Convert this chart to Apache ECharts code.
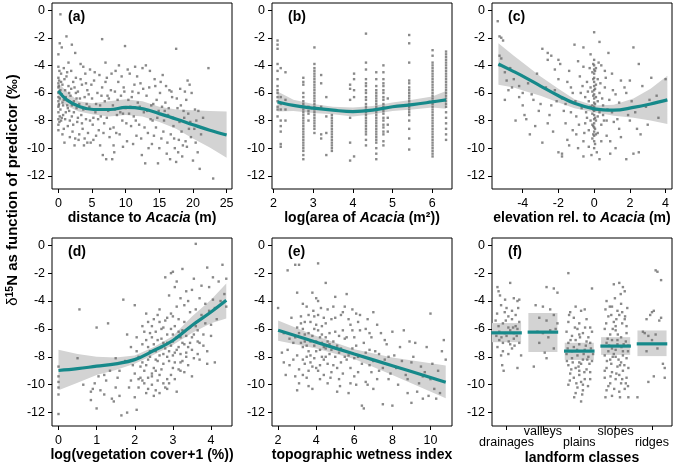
<!DOCTYPE html>
<html><head><meta charset="utf-8">
<script src="https://cdn.jsdelivr.net/npm/echarts@6/dist/echarts.min.js"></script>
<style>html,body{margin:0;padding:0;background:#fff}#c{width:675px;height:464px}</style>
</head><body><div id="c"></div>
<script>
// ---------- data ----------
const yTicks = [-12,-10,-8,-6,-4,-2,0];
const xTicksA = [0,5,10,15,20,25];
const xTicksB = [2,3,4,5,6];
const xTicksC = [-4,-2,0,2,4];
const xTicksD = [0,1,2,3,4];
const xTicksE = [2,4,6,8,10];
const landforms = ['drainages','valleys','plains','slopes','ridges'];
const panelLabels = ['(a)','(b)','(c)','(d)','(e)','(f)'];

const ptsA = [[0,-3.2],[0,-4.1],[0,-4.9],[0,-5.3],[0,-5.6],[0,-6.0],[0,-6.3],[0,-6.6],[0,-7.0],[0,-7.4],[0,-7.9],[0,-8.3],[0,-8.7],[0.1,-5.1],[0.1,-6.8],[0.2,-2.4],[0.3,-0.3],[0.3,-7.2],[0.4,-4.6],[0.4,-8.0],[0.5,-2.7],[0.5,-6.1],[0.6,-5.4],[0.6,-9.0],[0.7,-7.6],[0.8,-4.2],[0.8,-6.5],[0.9,-9.6],[1.0,-5.8],[1.0,-7.9],[1.2,-1.9],[1.2,-4.8],[1.3,-6.9],[1.4,-8.4],[1.5,-3.8],[1.5,-5.5],[1.6,-7.3],[1.7,-9.2],[1.8,-6.2],[1.9,-4.4],[2.0,-2.5],[2.0,-7.7],[2.1,-8.8],[2.2,-5.2],[2.3,-6.6],[2.4,-9.8],[2.5,-3.1],[2.6,-4.9],[2.7,-7.1],[2.8,-8.1],[2.9,-5.9],[3.0,-9.4],[3.1,-6.8],[3.3,-3.9],[3.4,-7.6],[3.5,-5.4],[3.6,-8.6],[3.8,-9.8],[3.9,-6.3],[4.0,-4.6],[4.1,-7.9],[4.3,-5.8],[4.4,-8.9],[4.6,-7.0],[4.7,-4.3],[4.8,-9.6],[5.0,-6.4],[5.1,-8.3],[5.3,-5.1],[5.5,-7.4],[5.6,-9.1],[5.8,-6.0],[6.0,-8.7],[6.1,-4.7],[6.3,-7.7],[6.5,-2.1],[6.5,-5.6],[6.6,-10.5],[6.8,-8.2],[6.9,-6.6],[7.0,-3.8],[7.1,-10.8],[7.2,-4.9],[7.4,-7.3],[7.6,-9.2],[7.8,-5.8],[8.0,-10.8],[8.1,-6.9],[8.2,-8.5],[8.3,-10.3],[8.5,-4.4],[8.7,-7.6],[8.9,-5.2],[9.0,-4.0],[9.1,-9.0],[9.3,-6.2],[9.5,-8.0],[9.7,-5.6],[9.9,-2.6],[10.0,-7.1],[10.2,-9.5],[10.4,-6.5],[10.6,-4.6],[10.8,-8.4],[11.0,-5.9],[11.2,-7.7],[11.4,-4.1],[11.6,-9.1],[11.8,-6.7],[12.0,-8.3],[12.2,-5.3],[12.4,-10.5],[12.5,-4.2],[12.7,-7.4],[12.9,-11.1],[13.0,-4.0],[13.1,-6.2],[13.3,-8.9],[13.5,-5.6],[13.7,-7.9],[13.9,-9.7],[14.1,-6.8],[14.3,-5.0],[14.5,-8.5],[14.8,-11.1],[14.9,-7.3],[15.1,-6.0],[15.3,-9.3],[15.5,-4.7],[15.7,-8.0],[15.9,-6.7],[16.1,-10.4],[16.3,-7.6],[16.5,-5.8],[16.7,-9.0],[16.9,-6.3],[17.1,-8.4],[17.3,-10.0],[17.5,-2.8],[17.5,-11.0],[17.7,-7.1],[17.9,-9.4],[18.1,-5.7],[18.3,-8.8],[18.5,-9.8],[18.7,-7.8],[18.9,-9.5],[19.0,-6.5],[19.2,-5.1],[19.4,-8.6],[19.5,-5.4],[19.7,-9.2],[20.0,-10.9],[20.3,-7.2],[20.5,-8.0],[20.7,-10.3],[21.0,-11.5],[21.5,-7.8],[22.3,-4.2],[23.0,-12.2],[0.2,-6.4],[0.3,-5.8],[0.5,-7.8],[0.7,-6.9],[1.1,-6.3],[1.4,-7.1],[1.9,-5.7],[2.3,-7.4],[2.6,-6.0],[3.2,-6.4],[3.7,-7.2],[4.2,-6.8],[5.2,-7.8],[6.2,-6.9],[7.3,-6.2],[8.4,-7.2],[9.6,-7.5],[10.7,-7.0],[11.9,-6.0],[13.2,-7.3],[14.6,-6.5],[15.8,-7.3],
[0.1,-5.9],[0.2,-7.7],[0.4,-5.2],[0.6,-6.7],[0.8,-8.6],[0.9,-5.0],[1.1,-7.4],[1.3,-4.5],[1.6,-6.0],[1.7,-8.0],[2.0,-6.9],[2.2,-8.3],[2.4,-5.6],[2.5,-9.3],[2.7,-6.4],[2.9,-7.8],[3.1,-9.0],[3.3,-5.0],[3.5,-8.2],[3.7,-4.1],[3.9,-9.3],[4.1,-5.3],[4.3,-9.6],[4.5,-6.1],[4.7,-8.0],[4.9,-5.4],[5.2,-9.4],[5.4,-4.5],[5.6,-6.8],[5.9,-7.9],[6.2,-9.8],[6.4,-6.2],[6.7,-8.9],[7.0,-5.2],[7.2,-7.8],[7.5,-6.4],[7.7,-8.6],[7.9,-4.6],[8.2,-9.8],[8.4,-5.9],[8.6,-8.9],[8.8,-6.5],[9.2,-7.4],[9.4,-4.8],[9.6,-9.9],[9.8,-5.9],[10.1,-8.2],[10.3,-4.3],[10.5,-7.5],[10.9,-6.3],[11.1,-9.7],[11.3,-5.4],[11.5,-8.0],[11.7,-4.8],[12.1,-7.0],[12.3,-9.3],[12.6,-5.7],[12.8,-8.5],[13.4,-10.0],[13.6,-4.4],[13.8,-6.9],[14.0,-8.0],[14.2,-9.1],[14.4,-5.5],[14.7,-7.8],[15.0,-10.0],[15.2,-5.2],[15.4,-7.0],[15.6,-8.8],[16.0,-5.5],[16.2,-9.6],[16.4,-7.1],[16.6,-10.8],[16.8,-5.9],[17.0,-7.8],[17.2,-9.3],[17.6,-6.4],[17.8,-10.3],[18.0,-8.1],[18.2,-6.9],[18.4,-10.6],[18.6,-7.3],[18.8,-5.9],[19.1,-9.9],[19.3,-7.5],[19.6,-8.1],[19.8,-6.0],[20.2,-8.6],[20.4,-9.6],[20.8,-7.3],[21.2,-9.0],[0.05,-6.9],[0.05,-5.5],[0.15,-8.1],[0.15,-4.4]];

const colsB = [
 [2.1,[-2.2,-2.5,-2.8,-3.9,-4.4,-5.0,-5.5,-5.8,-6.0,-6.3,-6.6,-7.0,-7.2,-7.7]],
 [2.18,[-4.2,-6.3,-6.8,-7.2,-8.0,-8.4,-8.8,-9.7,-9.9]],
 [2.3,[-4.5,-6.5,-7.2,-8.0]],
 [2.75,[-4.9,-5.2,-5.4,-6.0,-6.3,-6.6,-6.8,-7.0,-7.2,-7.4,-7.6,-7.8,-8.0,-8.2,-8.4,-8.6,-8.8,-9.0,-9.2,-9.4,-9.6,-9.8,-10.0,-10.2,-10.5,-10.8]],
 [2.88,[-7.0,-7.3,-7.5,-8.0]],
 [3.03,[-2.7,-3.9,-4.2,-4.4,-4.6,-4.8,-5.0,-5.2,-5.4,-5.6,-5.8,-6.0,-6.2,-6.4,-6.6,-6.8,-7.0,-7.2,-7.4,-7.6,-7.8,-8.0,-8.2,-8.4,-8.6,-8.9]],
 [3.2,[-4.7,-5.3,-7.0,-9.0,-9.3]],
 [3.33,[-6.3,-7.7,-8.9,-10.5]],
 [3.47,[-7.6,-7.8,-8.0,-8.2,-8.4,-8.6,-8.8,-9.0,-9.2,-9.4,-9.6,-9.8,-10.0,-10.2]],
 [3.93,[-5.4,-5.7,-6.5,-7.8,-9.6,-10.9]],
 [4.03,[-4.6,-5.0,-5.8,-6.3,-10.6]],
 [4.33,[-1.7,-3.8,-4.3,-5.0,-5.3,-5.5,-5.8,-6.0,-6.3,-6.5,-6.8,-7.0,-7.2,-7.4,-7.6,-7.8,-8.0,-8.2,-8.4,-8.6,-8.8,-9.0,-9.4,-9.8]],
 [4.59,[-4.5,-5.0,-5.5,-5.8,-6.0,-6.2,-6.4,-6.6,-6.8,-7.0,-7.2,-7.4,-7.6,-7.8,-8.0,-8.2,-8.4,-8.6,-8.8,-9.0,-9.2,-9.4,-9.6,-10.0,-10.4,-10.8]],
 [4.77,[-4.0,-4.5,-5.0,-5.3,-5.5,-5.8,-6.0,-6.3,-6.5,-6.8,-7.0,-7.3,-7.5,-7.8,-8.0,-8.3,-8.5,-8.8,-9.0,-9.5,-9.8]],
 [4.88,[-6.4,-7.8,-8.3,-8.8]],
 [5.42,[-1.8,-2.4,-3.8,-5.1,-5.3,-5.6,-5.8,-6.0,-6.2,-6.4,-6.6,-6.8,-7.0,-7.2,-7.4,-7.6,-8.0,-8.6,-9.3,-10.1]],
 [6.01,[-2.9,-3.3,-3.8,-4.0,-4.2,-4.4,-4.6,-4.8,-5.0,-5.2,-5.4,-5.6,-5.8,-6.0,-6.2,-6.4,-6.6,-6.8,-7.0,-7.2,-7.4,-7.6,-7.8,-8.0,-8.2,-8.4,-8.6,-8.8,-9.0,-9.2,-9.4,-9.6,-9.8,-10.0,-10.2,-10.4,-10.6]],
 [6.35,[-3.0,-3.2,-3.4,-3.6,-3.8,-4.0,-4.2,-4.4,-4.6,-4.8,-5.0,-5.2,-5.4,-5.6,-5.8,-6.0,-6.2,-6.4,-6.6,-6.8,-7.0,-7.4,-7.8,-8.2,-8.6,-9.0,-9.4]]
];

const ptsC = [[-5.4,-0.8],[-5.3,-1.9],[-5.2,-2.0],[-5.1,-2.2],[-5.3,-3.3],[-5.2,-3.5],[-5.0,-4.5],[-4.5,-5.0],[-4.8,-5.8],[-5.0,-6.5],[-4.2,-5.5],[-4.0,-6.0],[-4.2,-6.3],[-3.7,-5.3],[-3.2,-4.6],[-3.9,-7.6],[-3.8,-7.9],[-4.4,-8.0],[-3.3,-8.4],[-3.6,-9.0],[-2.9,-2.8],[-2.6,-3.1],[-2.4,-3.3],[-2.6,-3.6],[-2.9,-9.6],[-2.5,-7.6],[-2.2,-4.3],[-2.0,-3.6],[-1.9,-3.9],[-2.0,-10.3],[-1.8,-10.4],[-1.8,-10.6],[-1.1,-2.5],[-0.6,-2.7],[-0.2,-3.2],[0.0,-1.6],[0.3,-2.3],[0.8,-3.1],[0.7,-8.0],[1.0,-4.6],[1.5,-5.1],[2.0,-8.0],[2.5,-3.9],[2.2,-2.7],[3.2,-4.9],[2.7,-5.5],[3.0,-8.3],[2.4,-8.6],[2.2,-10.4],[1.8,-10.8],[2.5,-10.3],[0.3,-10.8],[-0.6,-10.6],[4.0,-5.0],[-3.0,-6.8],[-1.5,-5.2],[-1.2,-6.0],[-0.8,-4.8],[-1.3,-7.4],[-1.6,-8.2],[-1.0,-9.0],[-0.6,-9.5],[-2.2,-5.8],[-1.8,-6.4],[-2.3,-8.8],[-1.4,-9.8],[-0.9,-3.7],[1.2,-6.1],[1.6,-7.2],[1.4,-8.6],[0.9,-9.5],[1.2,-10.0],[2.1,-6.6],[2.9,-7.0],[1.7,-5.6],[0.6,-5.6],[0.5,-6.9],[0.7,-9.1],[-0.5,-6.3],[-0.4,-7.8],[-0.3,-8.7],[-0.7,-7.1],[3.5,-6.2],[0,-3.6],[0,-4.0],[0,-4.3],[0,-4.6],[0,-4.9],[0,-5.2],[0,-5.5],[0,-5.8],[0,-6.1],[0,-6.4],[0,-6.7],[0,-7.0],[0,-7.3],[0,-7.6],[0,-7.9],[0,-8.2],[0,-8.5],[0,-8.8],[0,-9.1],[0,-9.5],[0,-10.0],[-0.1,-4.5],[-0.1,-5.9],[-0.1,-6.9],[-0.1,-7.5],[-0.1,-8.3],[-0.1,-9.3],[0.1,-4.2],[0.1,-5.4],[0.1,-6.3],[0.1,-7.2],[0.1,-8.0],[0.1,-9.0],[0.2,-5.0],[0.2,-6.6],[0.2,-7.7],[0.2,-8.9],[-0.2,-5.6],[-0.2,-7.0],[-0.2,-8.0],[0.3,-6.0],[0.3,-7.4],[-0.3,-6.6],[0.4,-4.0],[0.4,-8.3],[-0.4,-5.2],[-2.7,-5.6],[-3.4,-6.5],[-1.0,-7.7],[1.0,-7.4],[1.9,-7.6],[-0.5,-8.2],[0.5,-7.6],[-4.6,-5.6],[-2.4,-6.9],[-1.6,-6.8],
[-0.05,-3.9],[0.05,-4.4],[-0.05,-5.0],[0.05,-5.7],[-0.05,-6.2],[0.05,-6.8],[-0.05,-7.2],[0.05,-7.8],[-0.05,-8.4],[0.05,-8.6],[-0.05,-9.0],[0.05,-9.7],[0.15,-10.3],[-0.15,-10.5],[0.25,-3.8],[-0.25,-4.2],[0.35,-5.3],[-0.35,-5.9],[0.45,-6.4],[-0.45,-7.4],[0.55,-8.0],[-0.55,-8.9],[0.65,-4.9],[-0.65,-5.5],[0.75,-7.2],[-0.75,-6.0],[0.85,-6.5],[-0.85,-8.3],[1.05,-5.8],[-1.05,-6.6],[1.3,-7.9],[-1.3,-5.6],[1.5,-9.2],[-1.5,-9.4],[1.8,-6.0],[-1.7,-7.3],[2.3,-7.4],[-2.1,-6.6],[2.6,-9.0],[-2.6,-8.2],[3.1,-6.5],[-3.1,-7.3],[3.6,-7.8],[-3.5,-6.1],[-4.0,-6.9],[-4.7,-4.2],[-4.9,-5.1],[-5.3,-4.0],[0.9,-10.4],[-0.9,-10.0],[0.4,-9.5],[-0.3,-9.9],[1.1,-8.1],[-1.2,-8.7],[0.6,-4.4],[-0.6,-4.1],[1.4,-6.7],[-1.4,-4.4],[2.0,-5.1],[-2.0,-5.0]];

const ptsD = [[0,-8.7],[0,-9.4],[0,-9.8],[0,-10.2],[0,-10.7],[0,-12.1],[0.5,-8.1],[0.55,-4.6],[0.65,-10.0],[0.85,-10.5],[0.9,-10.3],[0.85,-11.1],[1.0,-11.7],[1.0,-5.9],[1.05,-9.4],[1.1,-10.4],[1.2,-10.7],[1.25,-9.7],[1.3,-5.6],[1.35,-9.0],[1.4,-11.0],[1.45,-11.2],[1.5,-8.1],[1.5,-10.2],[1.6,-9.0],[1.6,-10.8],[1.65,-12.2],[1.8,-12.0],[1.7,-3.9],[1.75,-8.3],[1.8,-6.4],[1.9,-7.3],[1.9,-9.7],[2.0,-4.3],[2.0,-10.9],[2.05,-11.8],[2.05,-6.6],[2.1,-8.0],[2.15,-9.5],[2.2,-5.8],[2.2,-7.1],[2.25,-9.9],[2.3,-4.9],[2.3,-8.6],[2.35,-10.3],[2.4,-6.3],[2.4,-7.6],[2.45,-9.2],[2.5,-5.3],[2.5,-10.8],[2.55,-8.2],[2.6,-6.8],[2.6,-9.7],[2.65,-4.6],[2.7,-7.3],[2.7,-8.9],[2.75,-5.9],[2.8,-10.2],[2.8,-2.3],[2.85,-6.4],[2.85,-8.0],[2.9,-3.6],[2.9,-7.6],[2.95,-9.3],[3.0,-1.9],[3.0,-5.1],[3.0,-6.9],[3.05,-8.4],[3.1,-2.6],[3.1,-4.4],[3.1,-10.5],[3.15,-6.2],[3.2,-7.8],[3.2,-9.0],[3.25,-1.7],[3.3,-5.5],[3.3,-7.1],[3.35,-3.3],[3.4,-8.6],[3.4,-6.0],[3.45,-4.8],[3.5,-7.5],[3.5,-9.4],[3.55,-2.4],[3.6,-5.8],[3.6,0.1],[3.65,-6.9],[3.7,-3.8],[3.7,-8.2],[3.75,-5.0],[3.8,-7.2],[3.85,-4.2],[3.9,-1.6],[3.9,-8.5],[3.95,-3.0],[4.0,-5.7],[4.05,-2.3],[4.1,-4.5],[4.2,-2.6],[4.3,-1.4],[4.35,-3.5],[4.4,-2.4],[4.4,-4.4],[2.25,-9.0],[2.35,-9.5],[2.45,-10.0],[2.55,-9.0],[2.65,-7.9],[2.75,-7.0],[2.85,-9.6],[2.95,-6.0],[3.05,-5.8],[3.15,-7.3],[3.25,-8.3],[3.35,-6.5],[2.95,-7.2],[2.7,-6.0],[2.6,-8.3],[2.5,-7.1],[2.4,-8.0],[2.3,-6.8],[2.2,-9.7],[3.0,-8.8],[3.1,-7.5],[2.9,-8.3],[2.8,-7.4],[3.2,-6.6],[3.3,-9.1],[2.1,-9.6],[2.0,-9.2],[3.45,-7.0],[3.55,-6.4],[3.65,-7.8],[2.55,-6.2],[2.65,-5.5],[2.75,-8.5],[2.85,-5.2],[3.05,-7.7],[3.15,-8.9],[3.25,-6.1],[3.35,-7.7],[2.45,-5.8],[2.35,-7.3],
[2.05,-7.6],[2.15,-8.7],[2.25,-6.2],[2.3,-10.6],[2.35,-8.2],[2.45,-6.6],[2.5,-8.8],[2.55,-7.6],[2.6,-5.0],[2.65,-9.3],[2.7,-6.7],[2.75,-7.8],[2.8,-5.4],[2.85,-7.0],[2.9,-9.9],[2.95,-4.9],[3.0,-7.9],[3.0,-6.4],[3.05,-9.6],[3.1,-6.6],[3.15,-5.3],[3.2,-8.4],[3.25,-7.0],[3.3,-4.3],[3.35,-8.0],[3.4,-7.3],[3.45,-5.9],[3.5,-6.6],[3.55,-8.1],[3.6,-4.6],[3.65,-6.1],[3.7,-7.0],[3.75,-2.9],[3.8,-6.4],[3.85,-5.6],[3.9,-7.6],[3.95,-4.7],[4.0,-6.5],[4.05,-3.9],[4.1,-8.4],[4.15,-5.3],[4.25,-4.0],[2.55,-10.4],[2.75,-9.9],[2.35,-5.5],[2.45,-9.4],[2.65,-10.6],[2.85,-10.3],[2.2,-8.4],[2.1,-10.2],[1.95,-8.6],[1.85,-10.2],[1.55,-9.5],[1.2,-9.3],[0.95,-9.9],[3.05,-3.0],[2.95,-2.0],[3.2,-3.8],[3.4,-4.0],[3.5,-3.2]];

const ptsE = [[2.0,-4.5],[2.5,-1.8],[2.9,-1.4],[3.1,-1.4],[4.1,-1.3],[4.5,-2.7],[2.4,-9.3],[2.2,-7.7],[2.6,-8.6],[2.8,-8.2],[3.0,-10.4],[3.1,-9.9],[2.9,-6.6],[3.0,-3.4],[3.2,-5.6],[3.3,-7.3],[3.4,-8.5],[3.5,-4.4],[3.5,-9.5],[3.6,-6.3],[3.7,-7.9],[3.8,-3.4],[3.8,-10.3],[3.9,-5.1],[4.0,-6.9],[4.0,-8.8],[4.1,-4.0],[4.2,-7.5],[4.2,-9.6],[4.3,-5.8],[4.4,-8.2],[4.5,-6.6],[4.6,-4.6],[4.6,-9.9],[4.7,-7.1],[4.8,-5.3],[4.9,-8.6],[5.0,-3.7],[5.0,-6.2],[5.1,-10.5],[5.2,-7.7],[5.3,-5.0],[5.4,-9.2],[5.5,-6.7],[5.6,-3.5],[5.6,-8.2],[5.7,-10.6],[5.8,-5.7],[5.9,-7.4],[6.0,-9.4],[6.1,-4.9],[6.2,-8.0],[6.3,-6.1],[6.4,-11.5],[6.5,-11.7],[6.5,-7.0],[6.6,-9.8],[6.7,-5.3],[6.8,-8.6],[6.9,-6.6],[7.0,-10.3],[7.0,-4.8],[7.1,-7.6],[7.3,-9.0],[7.4,-6.3],[7.5,-11.4],[7.6,-8.2],[7.7,-7.1],[7.8,-9.6],[8.0,-6.2],[8.0,-11.5],[8.2,-8.8],[8.3,-10.0],[8.4,-7.3],[8.6,-6.1],[8.7,-9.3],[8.8,-10.6],[8.9,-6.9],[9.0,-11.3],[9.1,-8.0],[9.2,-7.0],[9.4,-9.9],[9.5,-8.7],[9.6,-11.0],[9.7,-9.1],[9.8,-7.3],[9.9,-10.8],[10.0,-4.9],[10.1,-8.5],[10.2,-10.3],[10.3,-11.0],[10.5,-10.6],[10.7,-6.8],[10.8,-8.2],[10.6,-7.6],[3.2,-5.1],[3.3,-6.0],[3.4,-6.9],[3.6,-7.6],[3.7,-5.5],[3.8,-6.5],[3.9,-7.2],[4.0,-5.7],[4.1,-6.1],[4.2,-8.6],[4.3,-7.0],[4.4,-5.2],[4.5,-8.0],[4.6,-6.9],[3.5,-8.0],[3.6,-9.0],[3.9,-8.1],[4.1,-9.0],[4.8,-7.5],[5.0,-8.0],[5.2,-9.6],[5.4,-6.1],[5.5,-4.4],[5.8,-8.8],[6.0,-6.6],[6.2,-5.5],[6.8,-7.5],[7.2,-5.7],[7.8,-8.0],[3.0,-7.9],[2.8,-7.0],[2.6,-6.7],[3.1,-8.9],[2.3,-6.3],[4.9,-4.4],[5.3,-8.4],[6.1,-10.0],[6.9,-9.1],[3.4,-6.4],[3.7,-8.4],[4.3,-6.4],[4.7,-7.8],[5.1,-7.2],[3.3,-9.3],[4.5,-7.4],[5.7,-7.9],
[3.1,-6.3],[3.2,-7.0],[3.3,-8.2],[3.4,-5.5],[3.5,-7.2],[3.6,-5.0],[3.7,-6.9],[3.8,-8.7],[3.9,-6.0],[4.0,-7.6],[4.1,-5.0],[4.2,-6.6],[4.3,-8.0],[4.4,-7.3],[4.5,-5.6],[4.6,-8.5],[4.7,-6.3],[4.8,-9.1],[4.9,-6.9],[5.0,-5.2],[5.1,-8.8],[5.2,-6.5],[5.3,-7.4],[5.4,-4.8],[5.5,-8.0],[5.6,-6.6],[5.7,-5.3],[5.8,-9.9],[5.9,-6.1],[6.0,-8.1],[6.1,-7.2],[6.2,-9.1],[6.3,-5.0],[6.4,-8.5],[6.6,-6.0],[6.7,-10.0],[6.8,-6.3],[7.0,-8.3],[7.2,-9.6],[7.3,-7.8],[7.5,-8.8],[7.6,-6.8],[7.9,-9.2],[8.1,-7.9],[8.5,-8.3],[8.8,-9.6],[9.0,-8.4],[9.3,-10.5],[9.6,-9.4],[10.0,-9.6],[10.4,-9.0],[2.7,-5.2],[2.5,-7.5],[2.3,-8.4],[2.9,-9.4],[3.0,-5.9],[3.3,-4.2],[3.6,-10.1],[4.0,-3.8],[4.4,-9.3],[3.85,-4.7],[4.25,-4.5],[4.75,-9.5],[5.25,-10.1],[5.9,-4.6],[6.6,-7.7]];

const ptsF = [[0.75,-3.0],[0.78,-3.3],[0.82,-3.6],[1.1,-2.7],[0.85,-4.3],[0.95,-4.8],[1.2,-3.8],[1.3,-4.0],[1.35,-3.9],[0.7,-5.4],[0.9,-5.6],[1.05,-5.9],[1.15,-5.3],[1.25,-5.0],[1.3,-6.0],[0.8,-6.2],[1.0,-6.5],[1.1,-6.1],[1.2,-6.7],[0.75,-7.3],[0.9,-7.0],[1.05,-7.8],[1.15,-7.4],[1.35,-7.0],[0.88,-8.6],[0.92,-9.0],[1.3,-8.8],[1.4,-7.9],[0.85,-7.9],[1.0,-4.5],[1.25,-5.8],[0.8,-6.8],[1.1,-7.1],[0.95,-6.3],[1.2,-6.3],[1.35,-5.5],[0.72,-6.5],[1.05,-5.1],[1.15,-4.7],[0.9,-7.6],
[0.78,-5.8],[0.98,-5.4],[1.18,-5.9],[1.28,-6.5],[0.86,-6.6],[1.06,-6.9],[1.22,-7.2],[0.74,-4.9],[1.32,-4.5],[0.96,-3.9],
[2.1,-3.0],[2.3,-3.1],[2.4,-3.4],[1.8,-4.3],[2.0,-4.4],[2.2,-4.6],[1.9,-5.2],[2.1,-5.4],[2.3,-5.0],[2.4,-5.6],[1.85,-6.2],[2.0,-6.3],[2.15,-6.6],[2.35,-6.0],[1.75,-8.7],[2.05,-7.7],[2.1,-8.1],[2.3,-7.4],[1.9,-7.0],[2.2,-6.1],
[2.7,-2.0],[3.35,-3.1],[2.75,-4.8],[2.9,-4.4],[3.05,-4.7],[3.15,-4.6],[2.7,-5.5],[2.85,-5.2],[3.0,-5.6],[3.2,-5.3],[3.3,-5.9],[2.65,-6.2],[2.8,-6.5],[2.95,-6.0],[3.1,-6.3],[3.25,-6.6],[3.35,-6.2],[2.7,-7.0],[2.85,-7.3],[3.0,-7.1],[3.15,-7.5],[3.3,-7.0],[2.65,-7.8],[2.8,-8.1],[2.95,-7.9],[3.1,-8.2],[3.25,-8.0],[3.38,-7.8],[2.7,-8.6],[2.9,-8.8],[3.05,-8.5],[3.2,-8.9],[2.75,-9.2],[2.85,-9.5],[3.0,-9.3],[3.15,-9.6],[3.3,-9.1],[2.7,-10.0],[2.95,-10.2],[3.05,-9.8],[3.1,-10.4],[2.9,-10.6],[3.05,-11.2],[2.8,-7.6],[3.2,-6.9],[3.0,-8.4],[2.9,-6.8],[3.12,-7.8],[2.78,-8.9],[3.28,-8.5],[3.0,-9.0],[3.1,-10.0],[2.68,-7.4],[3.35,-8.3],
[2.72,-5.0],[2.88,-5.9],[3.02,-6.6],[3.18,-7.2],[3.32,-7.4],[2.66,-8.3],[2.82,-8.4],[2.98,-8.7],[3.14,-9.1],[3.3,-9.6],[2.74,-9.7],[2.92,-9.9],[3.08,-10.7],[3.24,-10.1],[2.86,-10.9],[3.0,-6.4],[3.16,-5.9],[2.76,-6.8],[3.22,-8.2],[2.94,-7.5],
[3.95,-2.8],[4.1,-2.7],[4.2,-3.0],[4.25,-3.3],[3.75,-4.0],[3.9,-4.4],[4.05,-4.7],[4.15,-4.2],[3.8,-5.1],[3.95,-5.5],[4.1,-5.0],[4.25,-5.3],[4.3,-5.8],[3.7,-6.0],[3.85,-6.4],[4.0,-6.1],[4.15,-6.6],[4.3,-6.3],[3.75,-7.0],[3.9,-7.4],[4.05,-7.1],[4.2,-7.6],[4.35,-7.2],[3.7,-7.9],[3.85,-8.2],[4.0,-8.0],[4.15,-8.4],[4.3,-8.1],[3.75,-8.8],[3.9,-9.1],[4.05,-8.7],[4.2,-9.0],[4.35,-8.8],[3.7,-9.5],[3.85,-9.9],[4.0,-9.6],[4.15,-9.9],[4.3,-9.5],[3.75,-10.4],[3.9,-10.8],[4.1,-10.5],[4.25,-10.3],[4.35,-10.9],[3.72,-10.9],[4.05,-6.8],[3.95,-7.8],[4.2,-7.9],[3.8,-7.6],[4.1,-9.3],[3.88,-8.5],[4.28,-6.9],[3.78,-6.7],[4.0,-5.8],[4.18,-5.6],[3.92,-6.0],[4.12,-8.6],
[3.72,-4.6],[3.88,-5.0],[4.02,-5.3],[4.18,-4.8],[4.32,-4.5],[3.74,-5.6],[3.9,-6.8],[4.06,-6.4],[4.22,-7.1],[4.34,-7.6],[3.76,-8.3],[3.92,-8.0],[4.08,-8.2],[4.24,-8.6],[3.7,-9.0],[3.86,-9.4],[4.02,-9.2],[4.18,-9.6],[4.34,-10.1],[3.8,-10.1],[3.96,-10.3],[4.12,-10.9],[4.28,-9.9],[3.98,-3.8],[4.14,-3.5],[3.84,-4.4],[4.0,-7.5],[4.16,-7.3],[3.82,-7.2],[4.26,-5.1],
[4.6,-10.9],[4.85,-5.3],[4.95,-5.0],[5.0,-4.8],[5.05,-4.7],[4.8,-6.3],[5.1,-1.8],[5.15,-1.9],[5.25,-2.5],[5.2,-5.4],[5.25,-5.2],[4.9,-6.5],[5.0,-6.8],[5.1,-6.4],[5.15,-7.4],[4.85,-7.6],[5.3,-8.5],[5.35,-8.8],[4.9,-9.8],[5.05,-9.4],[5.35,-9.5],[4.75,-6.2]];

// fitted curves and confidence bands
const fitAx = [0,1.24,3.2,5.2,7.7,10,12.6,15,17.6,20,22.5,25];
const fitAy = [-5.85,-6.5,-7.0,-7.2,-7.2,-7.05,-7.15,-7.5,-7.9,-8.3,-8.7,-9.05];
const bandAx = [0,1.5,3,5,7.5,10,12.5,15,17.5,20,22.5,25];
const bandAhi = [-5.3,-6.0,-6.6,-6.75,-6.6,-6.45,-6.6,-7.0,-7.2,-7.25,-7.3,-7.35];
const bandAlo = [-6.5,-7.0,-7.35,-7.55,-7.7,-7.6,-7.7,-8.1,-8.6,-9.3,-9.95,-10.7];

const fitBx = [2.1,2.5,3,3.5,4,4.5,5,5.5,6,6.35];
const fitBy = [-6.65,-6.9,-7.1,-7.25,-7.35,-7.25,-7.0,-6.85,-6.65,-6.5];
const bandBhi = [-5.9,-6.5,-6.8,-7.0,-7.05,-6.95,-6.7,-6.5,-6.25,-5.85];
const bandBlo = [-7.35,-7.3,-7.45,-7.55,-7.7,-7.55,-7.3,-7.2,-7.05,-7.15];

const fitCx = [-5.36,-4.5,-3.9,-3,-2,-1.1,0,1.1,2.2,3.16,4.1];
const fitCy = [-3.9,-4.45,-4.85,-5.5,-6.2,-6.75,-7.15,-7.25,-7.05,-6.8,-6.5];
const bandChi = [-2.4,-3.3,-3.9,-4.8,-5.7,-6.45,-6.9,-6.85,-6.4,-5.7,-4.75];
const bandClo = [-5.4,-5.6,-5.85,-6.2,-6.7,-7.1,-7.4,-7.65,-7.8,-8.0,-8.25];

const fitDx = [0,0.5,1,1.5,2,2.5,3,3.5,4,4.4];
const fitDy = [-8.98,-8.85,-8.67,-8.5,-8.2,-7.55,-6.83,-5.75,-4.79,-3.95];
const bandDhi = [-7.5,-7.8,-8.0,-8.05,-7.9,-7.3,-6.5,-5.1,-3.9,-2.75];
const bandDlo = [-10.4,-9.85,-9.3,-8.95,-8.5,-7.85,-7.15,-6.3,-5.6,-5.25];

const fitEx = [2,4,6,8,10.8];
const fitEy = [-6.1,-6.95,-7.8,-8.64,-9.82];
const bandEhi = [-5.4,-6.5,-7.45,-8.05,-8.62];
const bandElo = [-6.85,-7.4,-8.15,-9.3,-10.97];

const meanF = [-6.28,-6.23,-7.59,-7.23,-7.07];
const loF = [-6.95,-7.66,-8.22,-7.86,-7.95];
const hiF = [-5.58,-4.86,-6.99,-6.59,-6.11];

// ---------- layout ----------
const FONT = 'Liberation Sans, Arial, sans-serif';
const TEAL = '#16898a';
const PT = '#6c6c6c';
const BAND = '#d3d3d3';
const lefts = [52, 272, 492];
const tops = [3, 238];
const W = 180, H = [186, 188];
const xRanges = [[-0.95,25.8],[1.96,6.5],[-5.72,4.36],[-0.17,4.55],[1.68,11.13],[0.6,5.55]];
const xTickSets = [xTicksA, xTicksB, xTicksC, xTicksD, xTicksE, [1,2,3,4,5]];
const bold = {fontFamily: FONT, fontWeight: 'bold', fontSize: 14, color: '#000'};
const ital = Object.assign({}, bold, {fontStyle: 'italic'});
const xNames = [
  '{b|distance to }{i|Acacia}{b| (m)}',
  '{b|log(area of }{i|Acacia}{b| (m²))}',
  '{b|elevation rel. to }{i|Acacia}{b| (m)}',
  '{b|log(vegetation cover+1 (%))}',
  '{b|topographic wetness index}',
  '{b|landform classes}'
];

const grids = [], xAxes = [], yAxes = [], series = [], graphics = [];
for (let i = 0; i < 6; i++) {
  const r = Math.floor(i / 3), c = i % 3;
  grids.push({left: lefts[c], top: tops[r], width: W, height: H[r], show: true,
    borderColor: '#000', borderWidth: 1, backgroundColor: 'transparent', containLabel: false, outerBoundsMode: 'none'});
  const isF = i === 5;
  xAxes.push({gridIndex: i, type: 'value', min: xRanges[i][0], max: xRanges[i][1], position: 'bottom',
    axisLine: {show: false, onZero: false}, splitLine: {show: false},
    axisTick: {show: true, length: 4, lineStyle: {color: '#000', width: 1}, customValues: xTickSets[i]},
    axisLabel: isF ? {show: false}
      : {customValues: xTickSets[i], margin: 8, fontSize: 12.5, color: '#000', fontFamily: FONT, showMinLabel: true, showMaxLabel: true},
    name: xNames[i], nameLocation: 'middle', nameGap: isF ? 25 : 22, nameMoveOverlap: false,
    nameTextStyle: {rich: {b: bold, i: ital}}
  });
  yAxes.push({gridIndex: i, type: 'value', min: -12.96, max: 0.52, position: 'left',
    axisLine: {show: false, onZero: false}, splitLine: {show: false},
    axisTick: {show: true, length: 4, lineStyle: {color: '#000', width: 1}, customValues: yTicks},
    axisLabel: {customValues: yTicks, margin: 7, fontSize: 12.5, color: '#000', fontFamily: FONT, showMinLabel: true, showMaxLabel: true, hideOverlap: false}
  });
  graphics.push({type: 'text', x: lefts[c] + 16, y: tops[r] + 14,
    style: {text: panelLabels[i], font: 'bold 14px ' + FONT, fill: '#000', verticalAlign: 'middle'}, z: 100});
}

function band(idx, xs, lo, hi) {
  return {type: 'custom', xAxisIndex: idx, yAxisIndex: idx, silent: true, z: 1,
    data: xs.map((x, k) => [x, lo[k], hi[k]]),
    renderItem: (params, api) => {
      if (params.dataIndex !== 0) return null;
      const pts = [];
      for (let k = 0; k < xs.length; k++) pts.push(api.coord([xs[k], hi[k]]));
      for (let k = xs.length - 1; k >= 0; k--) pts.push(api.coord([xs[k], lo[k]]));
      return {type: 'polygon', shape: {points: pts}, style: {fill: BAND}};
    }};
}
function scatter(idx, pts) {
  return {type: 'scatter', xAxisIndex: idx, yAxisIndex: idx, data: pts, symbol: 'rect',
    symbolSize: 2.4, itemStyle: {color: PT}, silent: true, z: 2, large: false};
}
function fit(idx, xs, ys) {
  return {type: 'line', xAxisIndex: idx, yAxisIndex: idx, data: xs.map((x, k) => [x, ys[k]]),
    smooth: 0.4, showSymbol: false, symbol: 'none', lineStyle: {color: TEAL, width: 3.2}, silent: true, z: 3};
}
const ptsB = [];
colsB.forEach(([x, ys]) => ys.forEach(y => ptsB.push([x, y])));

series.push(band(0, bandAx, bandAlo, bandAhi), scatter(0, ptsA), fit(0, fitAx, fitAy));
series.push(band(1, fitBx, bandBlo, bandBhi), scatter(1, ptsB), fit(1, fitBx, fitBy));
series.push(band(2, fitCx, bandClo, bandChi), scatter(2, ptsC), fit(2, fitCx, fitCy));
series.push(band(3, fitDx, bandDlo, bandDhi), scatter(3, ptsD), fit(3, fitDx, fitDy));
series.push(band(4, fitEx, bandElo, bandEhi), scatter(4, ptsE), fit(4, fitEx, fitEy));
// panel f: boxes, points, mean segments
series.push({type: 'custom', xAxisIndex: 5, yAxisIndex: 5, silent: true, z: 1,
  data: meanF.map((m, k) => [k + 1, loF[k], hiF[k]]),
  renderItem: (params, api) => {
    const x = api.value(0);
    const p1 = api.coord([x - 0.4, api.value(2)]);
    const p2 = api.coord([x + 0.4, api.value(1)]);
    return {type: 'rect', shape: {x: p1[0], y: p1[1], width: p2[0] - p1[0], height: p2[1] - p1[1]}, style: {fill: BAND}};
  }});
series.push(scatter(5, ptsF));
series.push({type: 'custom', xAxisIndex: 5, yAxisIndex: 5, silent: true, z: 3,
  data: meanF.map((m, k) => [k + 1, m]),
  renderItem: (params, api) => {
    const x = api.value(0), y = api.value(1);
    const a = api.coord([x - 0.42, y]), b = api.coord([x + 0.42, y]);
    return {type: 'line', shape: {x1: a[0], y1: a[1], x2: b[0], y2: b[1]}, style: {stroke: TEAL, lineWidth: 3.2}};
  }});

graphics.push({type: 'text', x: 13, y: 190, rotation: Math.PI / 2, z: 100,
  style: {text: '{d|δ}{s|15}{b|N as function of predictor (‰)}', align: 'center', verticalAlign: 'middle',
    rich: {d: {fontFamily: FONT, fontSize: 15, fill: '#000', fontWeight: 'normal'},
           s: {fontFamily: FONT, fontSize: 10.5, fontWeight: 'bold', fill: '#000', verticalAlign: 'top', padding: [0, 0, 6, 0]},
           b: {fontFamily: FONT, fontSize: 15, fontWeight: 'bold', fill: '#000'}}}});

const chart = echarts.init(document.getElementById('c'), null, {renderer: 'canvas'});
chart.setOption({animation: false, backgroundColor: '#fff', grid: grids, xAxis: xAxes, yAxis: yAxes, series: series, graphic: graphics});

// landform category labels for panel (f), staggered on two lines, placed via the axis scale
const catLabels = landforms.map((name, k) => {
  const px = chart.convertToPixel({xAxisIndex: 5}, k + 1);
  const py = chart.convertToPixel({yAxisIndex: 5}, -12.96);
  return {type: 'text', x: px, y: py + (k % 2 === 0 ? 17 : 6), z: 100,
    style: {text: name, font: '12.5px ' + FONT, fill: '#000', align: 'center', verticalAlign: 'middle'}};
});
chart.setOption({graphic: graphics.concat(catLabels)});

// make sure no axis tick label was auto-hidden
const zr = chart.getZr();
zr.storage.getRoots().forEach(root => {
  if (root.traverse) root.traverse(el => {
    if (el.ignore && el.style && typeof el.style.text === 'string' && /^-?\d+$/.test(el.style.text)) {
      el.ignore = false; el.markRedraw && el.markRedraw();
    }
  });
});
zr.refreshImmediately();
</script></body></html>
